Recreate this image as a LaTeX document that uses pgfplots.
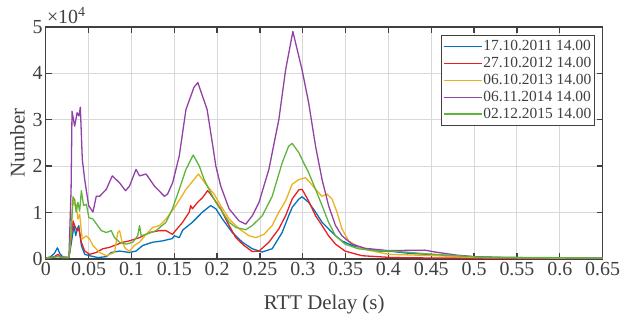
\documentclass[border=0pt]{standalone}
\usepackage{fontspec}
\setmainfont{Liberation Serif}
\usepackage{pgfplots}
\pgfplotsset{compat=1.18}
\definecolor{cblue}{RGB}{0,114,189}
\definecolor{cred}{RGB}{235,30,30}
\definecolor{corange}{RGB}{237,177,32}
\definecolor{cpurple}{RGB}{145,65,165}
\definecolor{cgreen}{RGB}{95,180,60}
\definecolor{axgray}{RGB}{64,64,64}
\begin{document}
\begin{tikzpicture}
\begin{axis}[name=ax, scale only axis, width=559pt, height=233pt,
 xmin=0, xmax=0.65, ymin=0, ymax=5,
 xtick={0,0.05,0.1,0.15,0.2,0.25,0.3,0.35,0.4,0.45,0.5,0.55,0.6,0.65},
 xticklabels={0,0.05,0.1,0.15,0.2,0.25,0.3,0.35,0.4,0.45,0.5,0.55,0.6,0.65},
 ytick={0,1,2,3,4,5},
 yticklabels={0,1,2,3,4,5},
 grid=major, major grid style={draw=black!15, line width=0.9pt},
 axis line style={draw=axgray, line width=1.3pt},
 tick style={draw=axgray, line width=1.3pt},
 major tick length=6pt,
 tick align=inside,
 /pgf/number format/assume math mode=true,
 ticklabel style={font=\fontsize{20}{20}\selectfont, text=axgray},
 xticklabel style={inner sep=3pt},
 yticklabel style={inner sep=3pt},
 xlabel={RTT Delay (s)}, ylabel={Number},
 label style={font=\fontsize{21}{21}\selectfont, text=axgray},
 x label style={at={(axis description cs:0.5,0)}, anchor=base, yshift=-51pt},
 y label style={at={(axis description cs:-0.051,0.5)}, anchor=center},
 legend cell align=left,
 legend style={at={(rel axis cs:0.9857,0.9657)}, anchor=north east,
   font=\fontsize{15.5}{17}\selectfont, text=axgray, draw=axgray,
   inner xsep=2pt, inner ysep=3pt, row sep=0pt,
   nodes={inner xsep=1pt, inner ysep=1.5pt, text height=11pt, text depth=3pt}},
 legend image code/.code={\draw[#1, line width=1.6pt] (-2pt,0pt) -- (36pt,0pt);},
 clip=true
]
\addplot[cblue, line width=1.3pt, line join=round] coordinates {
(0,0.02) (0.005,0.04) (0.010,0.12) (0.0136,0.24) (0.0162,0.12) (0.020,0.04) (0.027,0.03) (0.0294,0.3) (0.0329,0.72) (0.0349,0.50) (0.0369,0.65) (0.0385,0.72) (0.0415,0.29) (0.0454,0.10) (0.0511,0.07) (0.0608,0.03) (0.0706,0.05) (0.0764,0.14) (0.0861,0.17) (0.0977,0.14) (0.1053,0.17) (0.1131,0.29) (0.1246,0.36) (0.1364,0.39) (0.1478,0.44) (0.1499,0.50) (0.1558,0.46) (0.1597,0.62) (0.1711,0.79) (0.1829,1.01) (0.1924,1.15) (0.1985,1.08) (0.2062,0.86) (0.2177,0.57) (0.2295,0.36) (0.2410,0.22) (0.2527,0.15) (0.2643,0.22) (0.2759,0.57) (0.2835,0.93) (0.2876,1.11) (0.2954,1.29) (0.2992,1.34) (0.3068,1.22) (0.3149,1.01) (0.3225,0.79) (0.3301,0.65) (0.3382,0.50) (0.3457,0.39) (0.3574,0.29) (0.3726,0.22) (0.3883,0.17) (0.405,0.16) (0.425,0.12) (0.455,0.09) (0.505,0.04) (0.555,0.02) (0.65,0.01)
};
\addlegendentry{17.10.2011 14.00}
\addplot[cred, line width=1.3pt, line join=round] coordinates {
(0,0.02) (0.010,0.05) (0.0142,0.10) (0.018,0.04) (0.027,0.03) (0.0294,0.4) (0.0318,0.82) (0.0337,0.72) (0.0365,0.61) (0.0385,0.65) (0.0415,0.36) (0.0454,0.17) (0.0511,0.10) (0.0589,0.14) (0.0666,0.22) (0.0744,0.25) (0.080,0.29) (0.0899,0.36) (0.0977,0.39) (0.1094,0.46) (0.1209,0.57) (0.1327,0.61) (0.1403,0.61) (0.1478,0.53) (0.1519,0.62) (0.1597,0.79) (0.1675,1.01) (0.1691,1.15) (0.1711,1.08) (0.1772,1.22) (0.1829,1.32) (0.1888,1.47) (0.1914,1.42) (0.1964,1.29) (0.2042,1.08) (0.2140,0.72) (0.2218,0.46) (0.2314,0.29) (0.2410,0.16) (0.2489,0.17) (0.2604,0.36) (0.2721,0.65) (0.2799,0.93) (0.2876,1.29) (0.2954,1.49) (0.2992,1.50) (0.3068,1.25) (0.3149,0.93) (0.3225,0.72) (0.3301,0.50) (0.3382,0.32) (0.3493,0.17) (0.3690,0.07) (0.405,0.03) (0.455,0.02) (0.65,0.01)
};
\addlegendentry{27.10.2012 14.00}
\addplot[corange, line width=1.3pt, line join=round] coordinates {
(0,0.02) (0.010,0.04) (0.0142,0.06) (0.020,0.03) (0.027,0.03) (0.0294,0.5) (0.0318,1.35) (0.0337,1.15) (0.0354,1.18) (0.0375,0.86) (0.0395,0.96) (0.0425,0.43) (0.0473,0.50) (0.0511,0.43) (0.055,0.29) (0.0628,0.14) (0.0706,0.07) (0.0802,0.14) (0.0840,0.57) (0.0861,0.61) (0.0891,0.36) (0.0931,0.22) (0.0977,0.17) (0.1033,0.29) (0.1094,0.36) (0.1171,0.53) (0.1248,0.68) (0.1327,0.72) (0.1403,0.86) (0.1519,1.15) (0.1636,1.50) (0.1782,1.83) (0.1868,1.61) (0.1964,1.40) (0.2042,1.15) (0.2140,0.86) (0.2256,0.65) (0.2373,0.50) (0.2451,0.46) (0.2547,0.53) (0.2643,0.72) (0.2721,1.01) (0.2799,1.25) (0.2876,1.61) (0.2954,1.71) (0.3032,1.75) (0.3088,1.64) (0.3149,1.50) (0.3225,1.35) (0.3281,1.40) (0.3342,1.29) (0.3399,1.01) (0.3457,0.65) (0.3534,0.39) (0.3690,0.22) (0.40,0.10) (0.455,0.07) (0.505,0.03) (0.65,0.01)
};
\addlegendentry{06.10.2013 14.00}
\addplot[cpurple, line width=1.3pt, line join=round] coordinates {
(0,0.02) (0.010,0.04) (0.0142,0.06) (0.020,0.03) (0.027,0.03) (0.0295,1.5) (0.0306,3.18) (0.0337,2.86) (0.0365,3.15) (0.0387,3.08) (0.0403,3.27) (0.0426,2.14) (0.0454,1.71) (0.050,1.15) (0.055,1.01) (0.0589,1.35) (0.0628,1.35) (0.0706,1.50) (0.0776,1.79) (0.0861,1.64) (0.0931,1.47) (0.0977,1.57) (0.1053,1.93) (0.1094,1.79) (0.1171,1.83) (0.1268,1.57) (0.1384,1.35) (0.1422,1.40) (0.1480,1.64) (0.1558,2.22) (0.1636,3.22) (0.1730,3.70) (0.1775,3.80) (0.1883,3.22) (0.1944,2.50) (0.1985,2.00) (0.2042,1.57) (0.2140,1.08) (0.2256,0.82) (0.2334,0.75) (0.2410,0.93) (0.2489,1.22) (0.2604,1.93) (0.2721,3.01) (0.2799,4.07) (0.2884,4.90) (0.2992,4.07) (0.3068,3.37) (0.3149,2.43) (0.3225,1.71) (0.3301,1.15) (0.3382,0.72) (0.3457,0.50) (0.3574,0.32) (0.3726,0.23) (0.40,0.18) (0.4425,0.19) (0.4544,0.15) (0.481,0.08) (0.5008,0.05) (0.537,0.03) (0.65,0.02)
};
\addlegendentry{06.11.2014 14.00}
\addplot[cgreen, line width=1.3pt, line join=round] coordinates {
(0,0.02) (0.010,0.04) (0.0142,0.05) (0.020,0.03) (0.027,0.03) (0.0295,0.6) (0.0318,1.32) (0.0337,1.29) (0.0354,1.01) (0.0375,1.22) (0.0395,1.03) (0.0415,1.47) (0.0441,1.15) (0.0473,1.18) (0.0503,0.89) (0.055,0.86) (0.0648,0.61) (0.0706,0.57) (0.0764,0.61) (0.0802,0.46) (0.0861,0.36) (0.0938,0.32) (0.1016,0.36) (0.1073,0.50) (0.1094,0.72) (0.1114,0.50) (0.1171,0.53) (0.1286,0.61) (0.1403,0.79) (0.1478,1.08) (0.1558,1.50) (0.1636,1.93) (0.1721,2.24) (0.1792,2.00) (0.1849,1.71) (0.1904,1.50) (0.1985,1.22) (0.2062,1.01) (0.2140,0.79) (0.2218,0.68) (0.2334,0.63) (0.2410,0.72) (0.2527,0.93) (0.2643,1.35) (0.2759,2.07) (0.2835,2.43) (0.2876,2.49) (0.2954,2.29) (0.3011,2.07) (0.3068,1.86) (0.3149,1.50) (0.3225,1.15) (0.3301,0.79) (0.3382,0.50) (0.3493,0.32) (0.3645,0.22) (0.3883,0.17) (0.405,0.17) (0.445,0.11) (0.505,0.04) (0.65,0.02)
};
\addlegendentry{02.12.2015 14.00}
\end{axis}
\node[anchor=base west, inner sep=0pt, font=\fontsize{20}{20}\selectfont, text=axgray] at ([xshift=1pt,yshift=3pt]ax.north west) {×10\textsuperscript{4}};
\path ([xshift=-46pt,yshift=-62pt]ax.south west) rectangle ([xshift=18pt,yshift=27pt]ax.north east);
\end{tikzpicture}
\end{document}
